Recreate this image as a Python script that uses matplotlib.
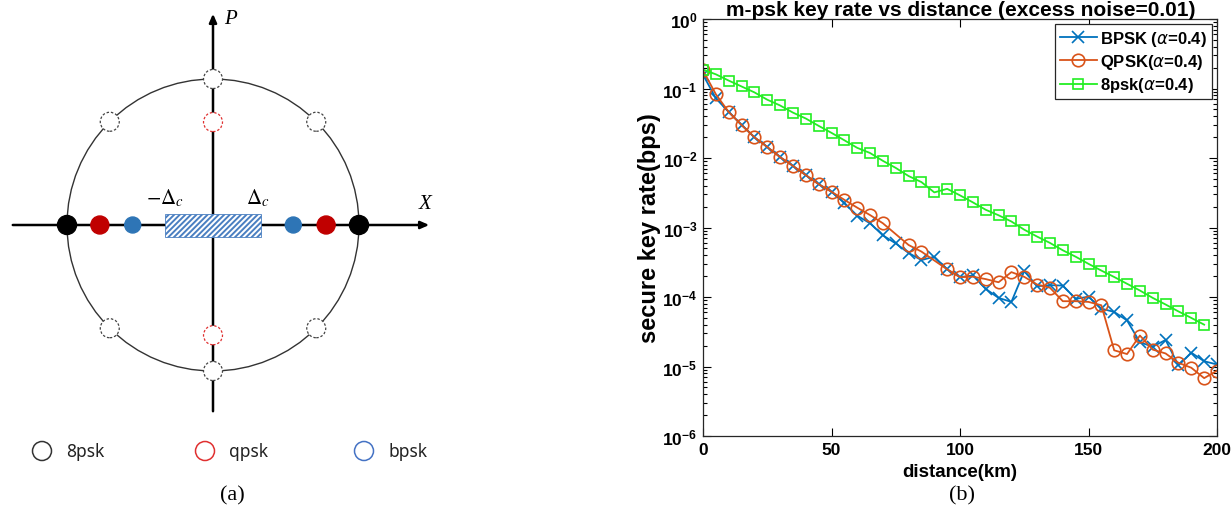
import numpy as np
import matplotlib
matplotlib.use('Agg')
import matplotlib.pyplot as plt
from matplotlib.patches import Circle, Rectangle

plt.rcParams['font.family'] = ['Liberation Sans', 'DejaVu Sans']
plt.rcParams['hatch.linewidth'] = 1.4

# ---- data: panel (b) ----
dist_bpsk = [0, 5, 10, 15, 20, 25, 30, 35, 40, 45, 50, 55, 60, 65, 70, 75, 80, 85, 90, 95, 100,
             105, 110, 115, 120, 125, 130, 135, 140, 145, 150, 155, 160, 165, 170, 175, 180,
             185, 190, 195, 200]
rate_bpsk = [0.158, 0.0723, 0.0459, 0.0298, 0.0199, 0.0144, 0.0103, 0.0077, 0.00567, 0.0042,
             0.00327, 0.00226, 0.00148, 0.00115, 7.7e-4, 5.9e-4, 4.3e-4, 3.4e-4, 3.8e-4, 2.5e-4,
             1.93e-4, 2.04e-4, 1.31e-4, 9.7e-5, 8.5e-5, 2.36e-4, 1.43e-4, 1.48e-4, 1.46e-4,
             9.4e-5, 1.01e-4, 6.8e-5, 6.1e-5, 4.6e-5, 2.23e-5, 1.93e-5, 2.41e-5, 1.04e-5,
             1.58e-5, 1.19e-5, 1.07e-5]

dist_qpsk = [0, 5, 10, 15, 20, 25, 30, 35, 40, 45, 50, 55, 60, 65, 70, 80, 85, 95, 100,
             105, 110, 115, 120, 125, 130, 135, 140, 145, 150, 155, 160, 165, 170, 175, 180,
             185, 190, 195, 200]
rate_qpsk = [0.182, 0.0827, 0.0459, 0.0298, 0.0199, 0.0144, 0.0103, 0.0077, 0.00567, 0.0042,
             0.00327, 0.0025, 0.00193, 0.00151, 0.00115, 5.6e-4, 4.5e-4, 2.5e-4, 1.93e-4,
             1.96e-4, 1.81e-4, 1.63e-4, 2.28e-4, 1.95e-4, 1.51e-4, 1.36e-4, 8.7e-5, 8.7e-5,
             8.5e-5, 7.6e-5, 1.71e-5, 1.51e-5, 2.79e-5, 1.75e-5, 1.54e-5, 1.13e-5, 9.6e-6,
             6.8e-6, 8.7e-6]

dist_8psk = [0, 5, 10, 15, 20, 25, 30, 35, 40, 45, 50, 55, 60, 65, 70, 75, 80, 85, 90, 95, 100,
             105, 110, 115, 120, 125, 130, 135, 140, 145, 150, 155, 160, 165, 170, 175, 180,
             185, 190, 195]
rate_8psk = [0.187, 0.16, 0.13, 0.107, 0.088, 0.069, 0.057, 0.045, 0.037, 0.029, 0.023, 0.018,
             0.014, 0.0118, 0.0091, 0.0072, 0.0055, 0.0045, 0.0032, 0.0036, 0.0029, 0.0023,
             0.0018, 0.0015, 0.00122, 9.3e-4, 7.4e-4, 6.0e-4, 4.7e-4, 3.8e-4, 3.0e-4, 2.4e-4,
             1.94e-4, 1.55e-4, 1.24e-4, 9.7e-5, 7.8e-5, 6.2e-5, 5.0e-5, 4.0e-5]

series_labels = [r'BPSK ($\mathit{\alpha}$=0.4)', r'QPSK($\mathit{\alpha}$=0.4)',
                 r'8psk($\mathit{\alpha}$=0.4)']
x_ticks = [0, 50, 100, 150, 200]
y_ticks = [1e0, 1e-1, 1e-2, 1e-3, 1e-4, 1e-5, 1e-6]
y_tick_labels = [r'$\mathdefault{10^{%d}}$' % e for e in [0, -1, -2, -3, -4, -5, -6]]

# ---- data: panel (a), constellation in units of the circle radius ----
psk8_angles = [0, 45, 90, 135, 180, 225, 270, 315]
qpsk_x = [-0.775, 0.775]
qpsk_p = [0.705, -0.755]
bpsk_x = [-0.55, 0.55]
delta_c = 0.33
legend_names = ['8psk', 'qpsk', 'bpsk']

fig = plt.figure(figsize=(12.32, 5.10), dpi=100)

# ================= panel (a) =================
R = 146.0
cx, cy = 213.0, 226.0
axa = fig.add_axes([0, 0, 450 / 1232, 1])
axa.set_xlim(-cx / R, (450 - cx) / R)
axa.set_ylim((cy - 510) / R, cy / R)
axa.axis('off')

# axes with arrows
axa.annotate('', xy=((432 - cx) / R, 0), xytext=((10 - cx) / R, 0),
             arrowprops=dict(arrowstyle='-|>,head_length=0.5,head_width=0.22', lw=1.8, color='k'))
axa.annotate('', xy=(0, (cy - 12) / R), xytext=(0, (cy - 415) / R),
             arrowprops=dict(arrowstyle='-|>,head_length=0.5,head_width=0.22', lw=1.8, color='k'))
axa.add_patch(Circle((0, 0), 1.0, fill=False, ec='#333333', lw=1.0, zorder=2))

r_dot = 9.5 / R
for a in psk8_angles:
    px, py = np.cos(np.radians(a)), np.sin(np.radians(a))
    if a in (0, 180):
        axa.add_patch(Circle((px, py), r_dot, fc='black', ec='black', zorder=4))
    else:
        axa.add_patch(Circle((px, py), r_dot, fc='white', ec='#444444', ls=(0, (2, 1.5)),
                             lw=0.9, zorder=4))
for q in qpsk_x:
    axa.add_patch(Circle((q, 0), 9 / R, fc='#c00000', ec='#c00000', zorder=4))
for q in qpsk_p:
    axa.add_patch(Circle((0, q), r_dot, fc='white', ec='#e03030', ls=(0, (2, 1.5)),
                         lw=0.9, zorder=4))
for b in bpsk_x:
    axa.add_patch(Circle((b, 0), 8 / R, fc='#2e75b6', ec='#2e75b6', zorder=4))

axa.add_patch(Rectangle((-delta_c, -12 / R), 2 * delta_c, 23 / R, fc='white',
                        ec='#4a7fc1', hatch='//////', lw=0.6, zorder=3))

axa.text((230 - cx) / R, (cy - 20) / R, 'P', fontsize=15, style='italic',
         family='Liberation Serif', ha='center', va='center')
axa.text((425 - cx) / R, (cy - 205) / R, 'X', fontsize=15, style='italic',
         family='Liberation Serif', ha='center', va='center')
axa.text(-delta_c, (cy - 198) / R, r'$-\Delta_{c}$', fontsize=15, math_fontfamily='stix',
         ha='center', va='center')
axa.text(delta_c - 0.02, (cy - 198) / R, r'$\Delta_{c}$', fontsize=15, math_fontfamily='stix',
         ha='center', va='center')

leg_colors = ['#333333', '#e03030', '#4472c4']
leg_x = [42, 205, 364]
for name, col, lx in zip(legend_names, leg_colors, leg_x):
    axa.add_patch(Circle(((lx - cx) / R, (cy - 452) / R), 9.5 / R, fill=False, ec=col, lw=1.1))
    axa.text((lx + 24 - cx) / R, (cy - 452) / R, name, fontsize=12.5, ha='left', va='center',
             family='Noto Sans', color='#222222')

fig.text(232 / 1232, 1 - 496 / 510, '(a)', fontsize=16, family='Liberation Serif',
         ha='center', va='center')

# ================= panel (b) =================
top_px, bot_px = 20, 437
axb = fig.add_axes([703 / 1232, 1 - bot_px / 510, 514 / 1232, (bot_px - top_px) / 510])
axb.semilogy(dist_bpsk, rate_bpsk, '-x', color='#0072BD', lw=1.3, ms=8, mew=1.2,
             label=series_labels[0])
axb.semilogy(dist_qpsk, rate_qpsk, '-o', color='#D95319', lw=1.3, ms=9, mfc='none', mew=1.2,
             label=series_labels[1])
axb.semilogy(dist_8psk, rate_8psk, '-s', color='#22ee22', lw=1.3, ms=7.5, mfc='none', mew=1.2,
             label=series_labels[2])
axb.set_xlim(0, 200)
axb.set_ylim(1e-6, 1e0)
axb.set_xticks(x_ticks, labels=[str(t) for t in x_ticks], fontsize=12.5, fontweight='bold')
axb.set_yticks(y_ticks, labels=y_tick_labels, fontsize=12.5, fontweight='bold')
axb.tick_params(which='both', direction='in', top=True, right=True, width=0.8)
axb.tick_params(which='major', length=6, pad=4)
axb.tick_params(which='minor', length=3)
for s in axb.spines.values():
    s.set_linewidth(0.9)
    s.set_color('#262626')
axb.set_xlabel('distance(km)', fontsize=13.5, fontweight='bold', labelpad=5)
axb.set_ylabel('secure key rate(bps)', fontsize=17, fontweight='bold', labelpad=1)
leg = axb.legend(loc='upper right', prop={'weight': 'bold', 'size': 12},
                 frameon=True, fancybox=False, framealpha=1, edgecolor='#262626',
                 handlelength=2.2, borderpad=0.3, labelspacing=0.25, handletextpad=0.2,
                 borderaxespad=0.3)
leg.get_frame().set_linewidth(0.9)

# title placed by hand so it stays inside the figure
fig.text(961 / 1232, 1 - 16 / 510, 'm-psk key rate vs distance (excess noise=0.01)',
         fontsize=15, fontweight='bold', ha='center', va='baseline')

fig.text(962 / 1232, 1 - 496 / 510, '(b)', fontsize=16, family='Liberation Serif',
         ha='center', va='center')

fig.savefig('out.png', dpi=100)
